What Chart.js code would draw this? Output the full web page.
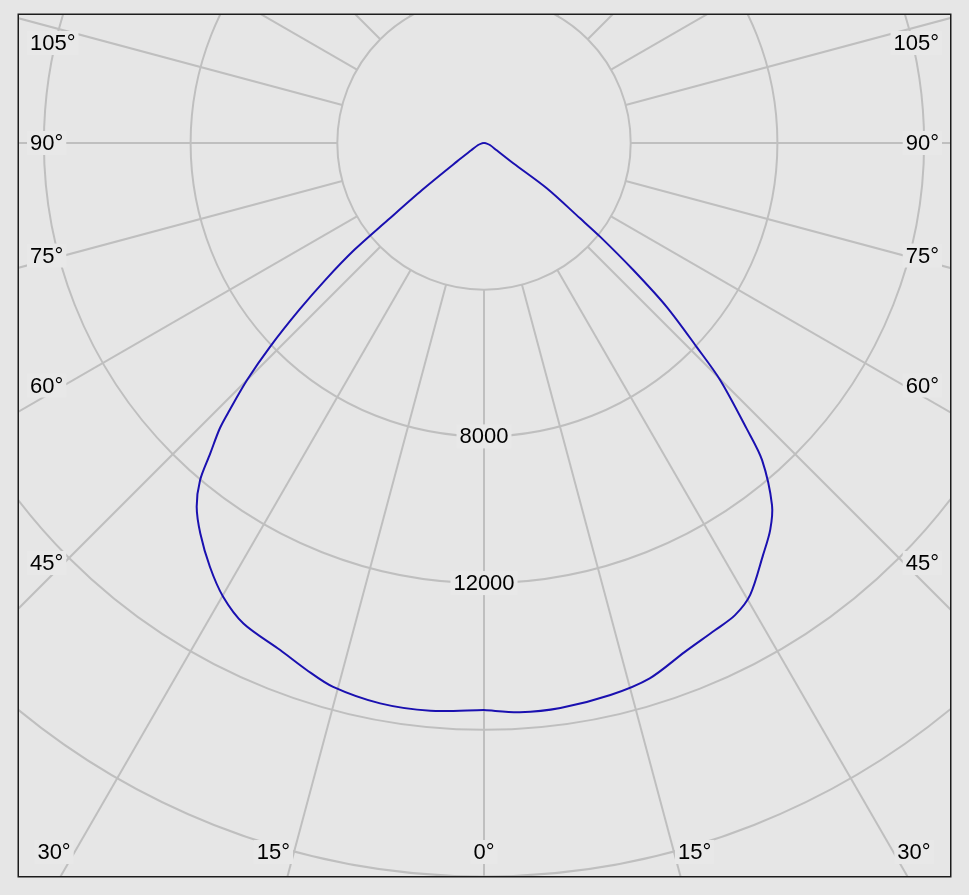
<!DOCTYPE html>
<html>
<head>
<meta charset="utf-8">
<script src="https://cdn.jsdelivr.net/npm/chart.js@4.4.0/dist/chart.umd.min.js"></script>
<style>
html, body { margin: 0; padding: 0; background: #e6e6e6; }
canvas { display: block; }
</style>
</head>
<body>
<canvas id="polar" width="969" height="895"></canvas>
<script>
// luminous intensity curve, gamma angle (deg from nadir) -> cd/klm
const leftAngles = [0, 5.4, 10.5, 15.5, 18.6, 21.9, 26.6, 29.9, 32.9, 36, 38.3, 40.1, 41.4, 42.8, 43.6, 45, 46.4, 47.9, 49.2, 50.5, 51.3, 52.8, 55.6, 60.4, 71, 80, 90];
const leftValues = [15460, 15550, 15540, 15390, 15160, 14900, 14650, 14270, 13760, 13160, 12640, 12020, 11290, 10600, 10060, 9130, 8050, 6800, 5720, 4580, 3360, 2120, 900, 390, 170, 60, 0];
const rightAngles = [0, 3.6, 7.7, 12.9, 17.2, 21.5, 25.4, 28, 30.5, 34.1, 36.5, 38.5, 41.25, 42.6, 44.9, 46.2, 48.1, 49.6, 51.1, 51.9, 54.2, 55.3, 60, 71, 80, 90];
const rightValues = [15460, 15550, 15545, 15440, 15280, 14920, 14700, 14580, 14300, 13570, 13120, 12615, 11500, 10580, 9120, 8030, 6690, 5345, 4066, 3330, 2110, 970, 400, 170, 60, 0];

const ringValues = [4000, 8000, 12000, 16000, 20000, 24000];
const ringLabels = [8000, 12000];
const spokeAngles = [0, 15, 30, 45, 60, 75, 90, 105, 120, 135, 150, 165, 180, 195, 210, 225, 240, 255, 270, 285, 300, 315, 330, 345];
const angleTicks = [0, 15, 30, 45, 60, 75, 90, 105];

const FONT = '22px "Liberation Sans", Arial, sans-serif';
const LABEL_BG = '#e8e8e8';
const rad = d => d * Math.PI / 180;

function toPoints(angles, values, side) {
	return angles.map((a, i) => ({
		x: side * values[i] * Math.sin(rad(a)),
		y: -values[i] * Math.cos(rad(a))
	}));
}

const polarGrid = {
	id: 'polarGrid',
	beforeDatasetsDraw(chart) {
		const { ctx, chartArea: a, scales: { x, y } } = chart;
		const cx = x.getPixelForValue(0);
		const cy = y.getPixelForValue(0);
		const len = v => x.getPixelForValue(v) - cx;
		ctx.save();
		ctx.beginPath();
		ctx.rect(a.left, a.top, a.right - a.left, a.bottom - a.top);
		ctx.clip();
		ctx.strokeStyle = '#bfbfbf';
		ctx.lineWidth = 2;
		ringValues.forEach(v => {
			ctx.beginPath();
			ctx.arc(cx, cy, len(v), 0, Math.PI * 2);
			ctx.stroke();
		});
		const r0 = len(ringValues[0]);
		const r1 = len(40000);
		spokeAngles.forEach(d => {
			const sx = Math.sin(rad(d));
			const sy = Math.cos(rad(d));
			ctx.beginPath();
			ctx.moveTo(cx + sx * r0, cy + sy * r0);
			ctx.lineTo(cx + sx * r1, cy + sy * r1);
			ctx.stroke();
		});
		// ring values along the 0° spoke
		ctx.font = FONT;
		ctx.textAlign = 'center';
		ctx.textBaseline = 'middle';
		ringLabels.forEach(v => {
			const ty = cy + len(v);
			const w = ctx.measureText(String(v)).width;
			ctx.fillStyle = LABEL_BG;
			ctx.fillRect(cx - w / 2 - 3, ty - 12, w + 6, 24);
			ctx.fillStyle = '#000';
			ctx.fillText(String(v), cx, ty + 1);
		});
		ctx.restore();
	},
	afterDraw(chart) {
		const { ctx, chartArea: a, scales: { x, y } } = chart;
		const cx = x.getPixelForValue(0);
		const cy = y.getPixelForValue(0);
		ctx.save();
		ctx.font = FONT;
		ctx.textBaseline = 'middle';
		const half = cx - a.left - 45;
		const bottomY = a.bottom - 24;
		[-1, 1].forEach(side => {
			angleTicks.forEach(d => {
				if (d === 0 && side > 0) return;
				const label = d + '°';
				const w = ctx.measureText(label).width;
				let tx, ty, align;
				if (d <= 30) {
					ty = bottomY;
					const px = cx + side * (ty - cy) * Math.tan(rad(d));
					if (d === 0) { tx = px; align = 'center'; }
					else if (side < 0) { tx = px - 4; align = 'right'; }
					else { tx = px + 4; align = 'left'; }
				} else {
					ty = Math.max(cy + half / Math.tan(rad(d)), a.top + 28);
					if (side < 0) { tx = a.left + 11; align = 'left'; }
					else { tx = a.right - 11; align = 'right'; }
				}
				const bx = align === 'left' ? tx : align === 'right' ? tx - w : tx - w / 2;
				ctx.fillStyle = LABEL_BG;
				ctx.fillRect(bx - 3, ty - 12, w + 6, 24);
				ctx.fillStyle = '#000';
				ctx.textAlign = align;
				ctx.fillText(label, tx, ty + 1);
			});
		});
		ctx.strokeStyle = '#1c1c1c';
		ctx.lineWidth = 1.5;
		ctx.strokeRect(a.left - 0.75, a.top - 0.75, a.right - a.left + 1.5, a.bottom - a.top + 1.5);
		ctx.restore();
	}
};

const curveStyle = {
	showLine: true,
	pointRadius: 0,
	borderColor: '#1a10b0',
	backgroundColor: '#1a10b0',
	borderWidth: 2,
	tension: 0.3
};

new Chart(document.getElementById('polar'), {
	type: 'scatter',
	data: {
		datasets: [
			Object.assign({ data: toPoints(leftAngles, leftValues, -1) }, curveStyle),
			Object.assign({ data: toPoints(rightAngles, rightValues, 1) }, curveStyle)
		]
	},
	options: {
		responsive: false,
		animation: false,
		devicePixelRatio: 1,
		layout: { padding: { left: 19, top: 15, right: 19, bottom: 19 } },
		scales: {
			x: { type: 'linear', display: false, min: -12679, max: 12706 },
			y: { type: 'linear', display: false, min: -19986, max: 3490 }
		},
		plugins: {
			legend: { display: false },
			tooltip: { enabled: false },
			colors: { enabled: false }
		}
	},
	plugins: [polarGrid]
});
</script>
</body>
</html>
